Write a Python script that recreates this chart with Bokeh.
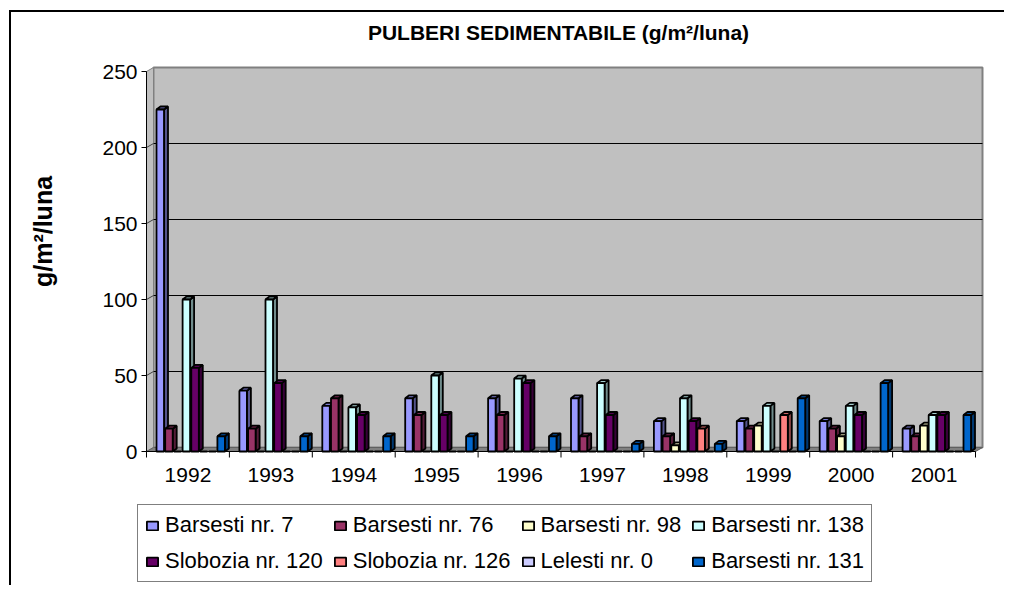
import math
from bokeh.plotting import figure
from bokeh.models import Range1d, Legend, LegendItem
from bokeh.core.properties import value
from bokeh.embed import file_html
from bokeh.resources import INLINE

# ---------------- data ----------------
years = ["1992", "1993", "1994", "1995", "1996", "1997", "1998", "1999", "2000", "2001"]
series_names = ["Barsesti nr. 7", "Barsesti nr. 76", "Barsesti nr. 98", "Barsesti nr. 138",
                "Slobozia nr. 120", "Slobozia nr. 126", "Lelesti nr. 0", "Barsesti nr. 131"]
barsesti_7 = [225, 40, 30, 35, 35, 35, 20, 20, 20, 15]
barsesti_76 = [15, 15, 35, 24, 24, 10, 10, 15, 15, 10]
barsesti_98 = [0, 0, 0, 0, 0, 0, 4, 17, 10, 17]
barsesti_138 = [100, 100, 29, 50, 48, 45, 35, 30, 30, 24]
slobozia_120 = [55, 45, 24, 24, 45, 24, 20, 0, 24, 24]
slobozia_126 = [0, 0, 0, 0, 0, 0, 15, 24, 0, 0]
lelesti_0 = [0, 0, 0, 0, 0, 0, 0, 0, 0, 0]
barsesti_131 = [10, 10, 10, 10, 10, 5, 5, 35, 45, 24]
y_ticks = [0, 50, 100, 150, 200, 250]
title_text = "PULBERI SEDIMENTABILE (g/m²/luna)"
y_label = "g/m²/luna"

series = [barsesti_7, barsesti_76, barsesti_98, barsesti_138,
          slobozia_120, slobozia_126, lelesti_0, barsesti_131]
colors = ["#9999FF", "#993366", "#FFFFCC", "#CCFFFF",
          "#660066", "#FF8080", "#CCCCFF", "#0066CC"]


def shade(hexc, f):
    h = hexc.lstrip("#")
    r, g, b = (int(h[k:k + 2], 16) for k in (0, 2, 4))
    return "#%02x%02x%02x" % (int(r * f), int(g * f), int(b * f))


# ---------------- geometry (pixels -> data units) ----------------
W, H = 995, 575
PXX, PXY = 82.9, 1.52          # pixels per x unit / per y unit
ORG_X, ORG_Y = 135, 439        # canvas position of data (0, 0)
n = len(years)
ymax = y_ticks[-1]
wall_dx, wall_dy = 7 / PXX, 4 / PXY
bar_off, bar_step, bar_w = 10 / PXX, 8.7 / PXX, 7.5 / PXX
bar_dx, bar_dy = 4 / PXX, 3 / PXY

x_start = -ORG_X / PXX
y_end = ORG_Y / PXY
p = figure(width=W, height=H,
           x_range=Range1d(x_start, x_start + W / PXX),
           y_range=Range1d(y_end - H / PXY, y_end),
           output_backend="svg", toolbar_location=None,
           x_axis_location=None, y_axis_location=None, min_border=0)
p.background_fill_color = "white"
p.border_fill_color = "white"
p.outline_line_color = None
p.grid.visible = False
p.styles = {"position": "relative", "left": "9px", "top": "10px",
            "border-top": "2px solid black", "border-left": "2px solid black"}

# walls
p.quad(left=[wall_dx], right=[n + wall_dx], bottom=[wall_dy], top=[ymax + wall_dy],
       fill_color="#C0C0C0", line_color="#808080", line_width=2)
p.patch([0, wall_dx, wall_dx, 0], [0, wall_dy, ymax + wall_dy, ymax],
        fill_color="#C0C0C0", line_color="#808080", line_width=1)
gt = y_ticks[1:-1]
p.segment(x0=[wall_dx] * len(gt), y0=[t + wall_dy for t in gt],
          x1=[n + wall_dx] * len(gt), y1=[t + wall_dy for t in gt],
          line_color="black", line_width=1)
p.segment(x0=[0] * len(gt), y0=gt, x1=[wall_dx] * len(gt), y1=[t + wall_dy for t in gt],
          line_color="#404040", line_width=1)
p.patch([0, n, n + wall_dx, wall_dx], [0, 0, wall_dy, wall_dy],
        fill_color="#808080", line_color="#606060", line_width=1)

# bars (front face + side + top)
renderers = []
for j, vals in enumerate(series):
    x0 = [i + bar_off + j * bar_step for i in range(n)]
    x1 = [a + bar_w for a in x0]
    nz = [k for k in range(n) if vals[k] > 0]
    if nz:
        p.patches(xs=[[x1[k], x1[k] + bar_dx, x1[k] + bar_dx, x1[k]] for k in nz],
                  ys=[[0, bar_dy, vals[k] + bar_dy, vals[k]] for k in nz],
                  fill_color=shade(colors[j], 0.55), line_color="black", line_width=1.8)
        p.patches(xs=[[x0[k], x1[k], x1[k] + bar_dx, x0[k] + bar_dx] for k in nz],
                  ys=[[vals[k], vals[k], vals[k] + bar_dy, vals[k] + bar_dy] for k in nz],
                  fill_color=shade(colors[j], 0.8), line_color="black", line_width=1.8)
    r = p.quad(left=x0, right=x1, bottom=[0] * n, top=vals,
               fill_color=colors[j], line_color="black", line_width=1.8)
    renderers.append(r)

# axes (drawn through the data scales)
p.segment(x0=[0], y0=[0], x1=[n], y1=[0], line_color="black", line_width=1)
p.segment(x0=[0], y0=[0], x1=[0], y1=[ymax], line_color="black", line_width=1)
p.segment(x0=list(range(n + 1)), y0=[0] * (n + 1), x1=list(range(n + 1)),
          y1=[-6 / PXY] * (n + 1), line_color="black", line_width=1)
p.segment(x0=[-5 / PXX] * len(y_ticks), y0=y_ticks, x1=[0] * len(y_ticks), y1=y_ticks,
          line_color="black", line_width=1)
p.text(x=[i + 0.5 for i in range(n)], y=[-23 / PXY] * n, text=years,
       text_font=value("Liberation Sans"), text_font_size=value("21px"),
       text_color="black", text_align="center", text_baseline="middle")
p.text(x=[-9 / PXX] * len(y_ticks), y=y_ticks, text=[str(t) for t in y_ticks],
       text_font=value("Liberation Sans"), text_font_size=value("21px"),
       text_color="black", text_align="right", text_baseline="middle")
p.text(x=[-104 / PXX], y=[220 / PXY], text=[y_label], angle=math.pi / 2,
       text_font=value("Liberation Sans"), text_font_size=value("25px"),
       text_font_style="bold", text_color="black",
       text_align="center", text_baseline="middle")
p.text(x=[412 / PXX], y=[419 / PXY], text=[title_text],
       text_font=value("Liberation Sans"), text_font_size=value("21px"),
       text_font_style="bold", text_color="black",
       text_align="center", text_baseline="middle")

legend = Legend(items=[LegendItem(label=nm, renderers=[r]) for nm, r in zip(series_names, renderers)],
                orientation="horizontal", ncols=4, location=(126, 5),
                border_line_color="black", border_line_width=1.5,
                background_fill_color="white",
                label_text_font="Liberation Sans", label_text_font_size="22px",
                label_text_color="black",
                glyph_width=14, glyph_height=11, label_standoff=6,
                spacing=10, padding=7, margin=0)
p.add_layout(legend)

open("out.html", "w").write(file_html(p, INLINE))
